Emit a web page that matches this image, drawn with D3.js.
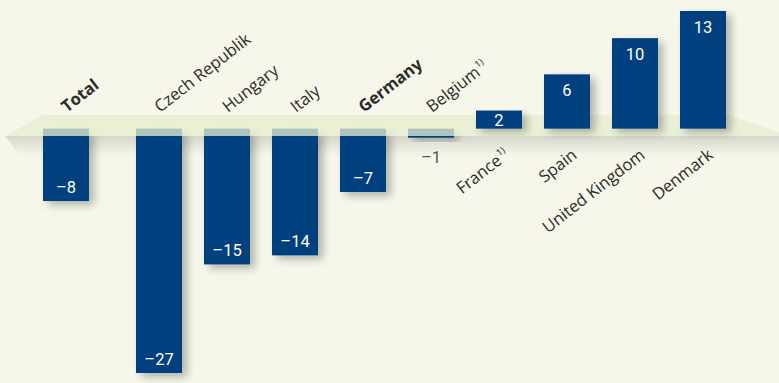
<!DOCTYPE html>
<html><head><meta charset="utf-8">
<script src="https://cdn.jsdelivr.net/npm/d3@7"></script>
<style>html,body{margin:0;padding:0;background:#f6f7ea;}svg{display:block;}</style>
</head><body>
<script>
const categories = ["Total","Czech Republik","Hungary","Italy","Germany","Belgium","France","Spain","United Kingdom","Denmark"];
const footnotes = ["","","","","","1)","1)","","",""];
const boldLabels = ["Total","Germany"];
const values = [-8,-27,-15,-14,-7,-1,2,6,10,13];

const W=779,H=383;
const svg=d3.select("body").append("svg").attr("width",W).attr("height",H);
svg.append("rect").attr("width",W).attr("height",H).attr("fill","#f6f7ea");

const defs=svg.append("defs");
const f=defs.append("filter").attr("id","sh").attr("x","-30%").attr("y","-30%").attr("width","170%").attr("height","170%");
f.append("feGaussianBlur").attr("in","SourceAlpha").attr("stdDeviation",4);
f.append("feOffset").attr("dx",5).attr("dy",4).attr("result","b");
f.append("feComponentTransfer").append("feFuncA").attr("type","linear").attr("slope",0.28);
const m=f.append("feMerge");m.append("feMergeNode");m.append("feMergeNode").attr("in","SourceGraphic");
const g1=defs.append("linearGradient").attr("id","fsh").attr("x1",0).attr("x2",0).attr("y1",0).attr("y2",1);
g1.append("stop").attr("offset","0%").attr("stop-color","#000").attr("stop-opacity",0.13);
g1.append("stop").attr("offset","100%").attr("stop-color","#000").attr("stop-opacity",0);

const y=d3.scaleLinear().domain([-27,13]).range([373,11]);
const countries=categories.slice(1);
const xb=d3.scaleBand().domain(countries).range([136,726]).paddingInner(22/68).paddingOuter(0);
const bw=xb.bandwidth();
const x=c=> c==="Total" ? xb(countries[0]) - 93 : xb(c);

const data=categories.map((c,i)=>({c,v:values[i],fn:footnotes[i]}));
const y0=y(0);
const floorTop=115, floorBot=136;

// floor shadow
svg.append("path").attr("d",`M5,${floorBot}L790,${floorBot}L790,${floorBot+20}L20,${floorBot+20}Z`).attr("fill","url(#fsh)");

// negative bars
svg.selectAll(".neg").data(data.filter(d=>d.v<0)).join("rect")
  .attr("x",d=>x(d.c)).attr("y",y0).attr("width",bw).attr("height",d=>y(d.v)-y0)
  .attr("fill","#003f7f").attr("filter","url(#sh)");

// floor
svg.append("path").attr("d",`M43,${floorTop}L727,${floorTop}L790,${floorBot}L5,${floorBot}Z`)
  .attr("fill","rgb(230,238,208)").attr("fill-opacity",0.76);

// positive bars
svg.selectAll(".pos").data(data.filter(d=>d.v>0)).join("rect")
  .attr("x",d=>x(d.c)).attr("y",d=>y(d.v)).attr("width",bw).attr("height",d=>y0-y(d.v))
  .attr("fill","#003f7f").attr("filter","url(#sh)");

const font="'Open Sans', sans-serif";
// values
svg.selectAll(".val").data(data).join("text")
  .attr("x",d=>x(d.c)+bw/2)
  .attr("y",d=>{
    if(d.v<0){ const b=y(d.v); return (b-y0)<20 ? b+25 : b-8; }
    const t=y(d.v); return (y0-t)<30 ? (t+y0)/2+6 : t+22;
  })
  .attr("text-anchor","middle").attr("font-family","Roboto, sans-serif").attr("font-size",16.5).attr("font-weight",400)
  .attr("fill",d=> (d.v<0 && y(d.v)-y0<20) ? "#555" : "#fff")
  .text(d=>(d.v<0?"–":"")+Math.abs(d.v));

// category labels
const ang=-38;
const lab=svg.selectAll(".lab").data(data).join("text")
  .attr("transform",d=>{
    const cx=x(d.c)+bw/2;
    return d.v<0 ? `translate(${cx+1},113) rotate(${ang})` : `translate(${cx+11},157) rotate(${ang})`;
  })
  .attr("text-anchor",d=>d.v<0?"start":"end")
  .attr("font-family",font).attr("font-size",16.5)
  .attr("font-weight",d=>boldLabels.includes(d.c)?"bold":"normal")
  .attr("fill","#2b2b2b");
lab.append("tspan").text(d=>d.c);
lab.filter(d=>d.fn).append("tspan").attr("font-size",9.5).attr("dy",-7).attr("dx",1).text(d=>d.fn);
</script>
</body></html>
